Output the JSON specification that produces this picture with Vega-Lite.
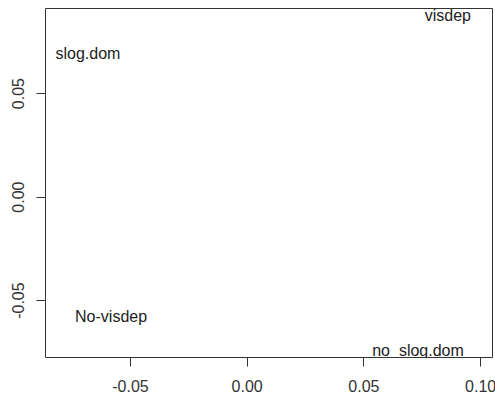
{
  "$schema": "https://vega.github.io/schema/vega-lite/v6.json",
  "autosize": "none",
  "padding": {"left": 45, "top": 8, "right": 3, "bottom": 39},
  "width": 447,
  "height": 349,
  "config": {
    "view": {"stroke": "#333333", "strokeWidth": 1},
    "font": "Liberation Sans",
    "axis": {
      "grid": false,
      "domain": false,
      "tickColor": "#333333",
      "tickSize": 9,
      "labelFont": "Liberation Sans",
      "labelFontSize": 16,
      "labelColor": "#333333",
      "title": null
    }
  },
  "data": {
    "values": [
      {"x": 0.0862, "y": 0.0872, "label": "visdep"},
      {"x": -0.068, "y": 0.0688, "label": "slog.dom"},
      {"x": -0.0581, "y": -0.0582, "label": "No-visdep"},
      {"x": 0.0734, "y": -0.0746, "label": "no_slog.dom"}
    ]
  },
  "mark": {"type": "text", "fontSize": 16, "color": "#222222", "baseline": "middle", "align": "center", "clip": true},
  "encoding": {
    "x": {
      "field": "x", "type": "quantitative",
      "scale": {"domain": [-0.0864, 0.1051], "nice": false, "zero": false},
      "axis": {"values": [-0.05, 0, 0.05, 0.1], "labelPadding": 12, "labelExpr": "replace(format(datum.value, '.2f'), '\u2212', '-')", "labelFlush": false}
    },
    "y": {
      "field": "y", "type": "quantitative",
      "scale": {"domain": [-0.0775, 0.0911], "nice": false, "zero": false},
      "axis": {"values": [-0.05, 0, 0.05], "labelAngle": -90, "labelAlign": "center", "labelBaseline": "bottom", "labelPadding": 10, "labelExpr": "replace(format(datum.value, '.2f'), '\u2212', '-')", "labelFlush": false}
    },
    "text": {"field": "label"}
  }
}
